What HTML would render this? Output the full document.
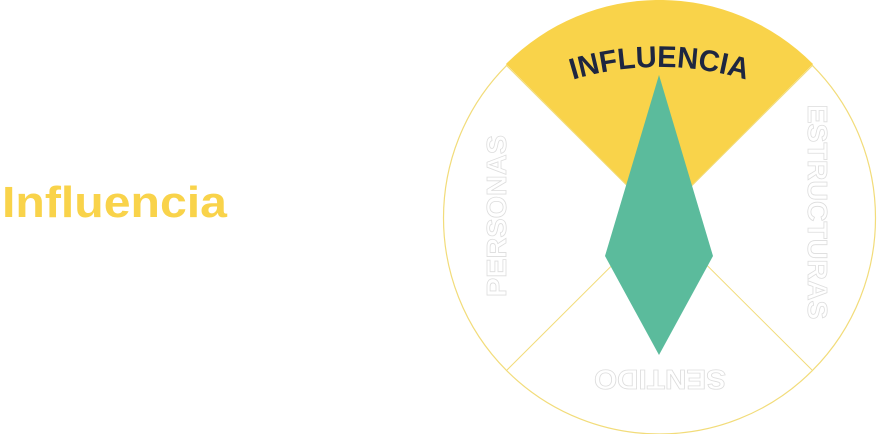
<!DOCTYPE html>
<html><head><meta charset="utf-8"><style>
html,body{margin:0;padding:0;background:#fff;width:877px;height:434px;overflow:hidden}
</style></head><body>
<svg width="877" height="434" viewBox="0 0 877 434" xmlns="http://www.w3.org/2000/svg">
<text x="2" y="217" font-family="Liberation Sans, sans-serif" font-weight="bold" font-size="44" fill="#F9D34A" textLength="225" lengthAdjust="spacingAndGlyphs">Influencia</text>
<circle cx="659.5" cy="218" r="216" fill="#fff" stroke="#F2DC7A" stroke-width="1.2"/>
<path d="M659.5,218 L506,64 A216,216 0 0 1 813,64 Z" fill="#F9D34A"/>
<line x1="659.5" y1="218" x2="507" y2="370" stroke="#F2DC7A" stroke-width="1"/>
<line x1="659.5" y1="218" x2="812" y2="370" stroke="#F2DC7A" stroke-width="1"/>
<line x1="659.5" y1="218" x2="506" y2="65" stroke="#F2DC7A" stroke-width="1"/>
<line x1="659.5" y1="218" x2="813" y2="65" stroke="#F2DC7A" stroke-width="1"/>
<polygon points="659,75 713,256 659,355 605,256" fill="#5BBB9C"/>
<defs><path id="arc" d="M359.5,367 A300,300 0 0 1 959.5,367"/></defs>
<text font-family="Liberation Sans, sans-serif" font-weight="bold" font-size="30" fill="#1E2640" text-anchor="middle"><textPath href="#arc" startOffset="50%" textLength="176" lengthAdjust="spacingAndGlyphs">INFLUENCIA</textPath></text>
<g font-family="Liberation Sans, sans-serif" font-weight="bold" font-size="28" fill="#fff" stroke="#ddd" stroke-width="0.8" text-anchor="middle">
<text transform="translate(506,216) rotate(-90)" textLength="162" lengthAdjust="spacingAndGlyphs">PERSONAS</text>
<text transform="translate(808,212) rotate(90)" textLength="215" lengthAdjust="spacingAndGlyphs">ESTRUCTURAS</text>
<text transform="translate(660,370) rotate(180)" textLength="132" lengthAdjust="spacingAndGlyphs">SENTIDO</text>
</g>
</svg>
</body></html>
